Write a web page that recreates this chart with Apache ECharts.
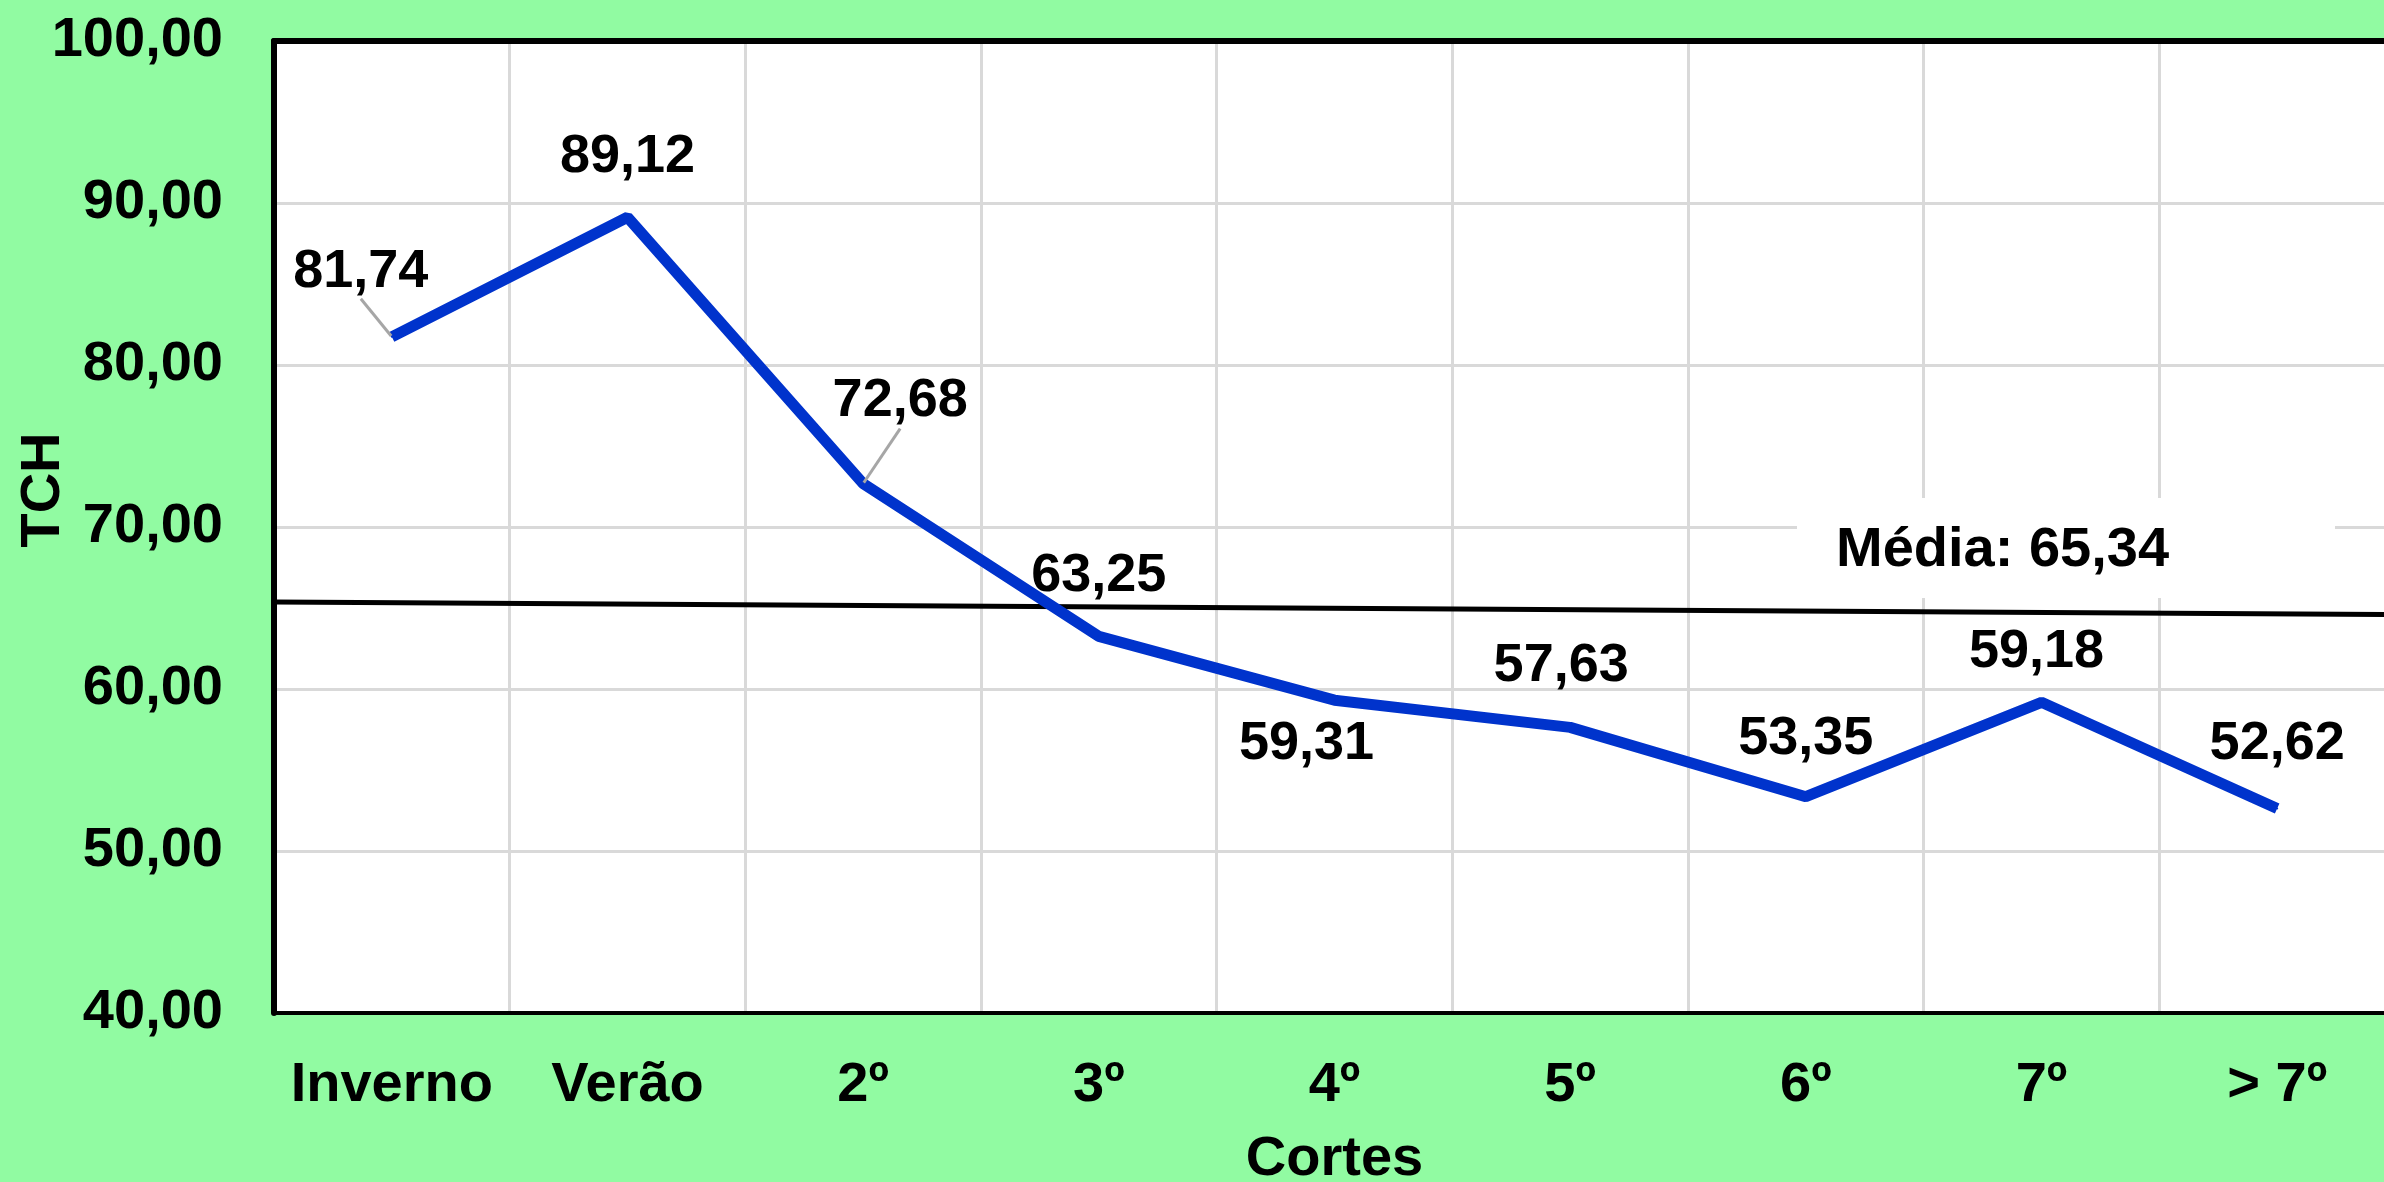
<!DOCTYPE html>
<html>
<head>
<meta charset="utf-8">
<script src="https://cdn.jsdelivr.net/npm/echarts@6/dist/echarts.min.js"></script>
<style>
html,body{margin:0;padding:0;background:#91FBA2;}
#c{width:2384px;height:1182px;}
</style>
</head>
<body>
<div id="c"></div>
<script>
// ---- data ----
const categories = ['Inverno', 'Verão', '2º', '3º', '4º', '5º', '6º', '7º', '> 7º'];
const tchValues = [81.74, 89.12, 72.68, 63.25, 59.31, 57.63, 53.35, 59.18, 52.62];
const mediaValue = 65.34;
const mediaLineEnds = [65.37, 64.60]; // drawn mean line: start (left edge) and end (right edge)
const yTicks = { min: 40, max: 100, interval: 10 };
const yAxisTitle = 'TCH';
const xAxisTitle = 'Cortes';

// ---- label placement (style, not data) ----
const labelOffsets = [[-31, -65], [0, -60], [37, -82], [0, -60], [-28, 44], [-9, -61], [0, -58], [-5, -50], [0, -64]];
const leaderLines = [true, false, true, false, false, false, false, false, false];

const FONT = 'Liberation Sans, Arial, sans-serif';
const fmt = v => v.toFixed(2).replace('.', ',');

const chart = echarts.init(document.getElementById('c'), null, { renderer: 'canvas' });

const option = {
  backgroundColor: '#91FBA2',
  animation: false,
  grid: {
    left: 274, top: 41, width: 2121, height: 972,
    outerBoundsMode: 'none',
    containLabel: false,
    show: true, backgroundColor: '#FFFFFF', borderWidth: 0
  },
  xAxis: [{
    type: 'category',
    data: categories,
    boundaryGap: true,
    z: 1,
    axisTick: { show: false },
    axisLine: { show: true, lineStyle: { color: '#000', width: 4 } },
    axisLabel: { interval: 0, color: '#000', fontFamily: FONT, fontWeight: 'bold', fontSize: 56, margin: 45 },
    splitLine: { show: true, interval: 0, showMinLine: false, lineStyle: { color: '#D9D9D9', width: 3 } },
    name: xAxisTitle,
    nameLocation: 'middle',
    nameGap: 119,
    nameTextStyle: { color: '#000', fontFamily: FONT, fontWeight: 'bold', fontSize: 56 }
  }, {
    type: 'value', min: 0, max: 9, position: 'top', z: 3,
    axisLine: { show: true, lineStyle: { color: '#000', width: 6 } },
    axisTick: { show: false },
    axisLabel: { show: false },
    splitLine: { show: false }
  }],
  yAxis: {
    type: 'value',
    min: yTicks.min, max: yTicks.max, interval: yTicks.interval,
    z: 2,
    axisLine: { show: true, lineStyle: { color: '#000', width: 6 } },
    axisTick: { show: false },
    axisLabel: { color: '#000', fontFamily: FONT, fontWeight: 'bold', fontSize: 56, margin: 51, formatter: v => fmt(v) },
    splitLine: { show: true, showMinLine: false, showMaxLine: false, lineStyle: { color: '#D9D9D9', width: 3 } }
  },
  series: [{
    type: 'line',
    xAxisIndex: 1,
    data: [[0, mediaLineEnds[0]], [9, mediaLineEnds[1]]],
    symbol: 'none',
    lineStyle: { color: '#000', width: 5 },
    z: 3,
    silent: true
  }, {
    type: 'line',
    xAxisIndex: 0,
    data: tchValues.map((v, i) => ({ value: v, labelLine: { show: leaderLines[i] } })),
    symbol: 'circle',
    symbolSize: 2,
    itemStyle: { color: '#0033CC' },
    lineStyle: { color: '#0033CC', width: 11 },
    z: 5,
    label: {
      show: true,
      position: 'inside',
      color: '#000',
      textBorderWidth: 0,
      fontFamily: FONT, fontWeight: 'bold', fontSize: 54,
      formatter: p => fmt(p.value)
    },
    labelLine: { show: false, lineStyle: { color: '#A6A6A6', width: 3 } },
    labelLayout: p => ({ dx: labelOffsets[p.dataIndex][0], dy: labelOffsets[p.dataIndex][1] })
  }],
  graphic: [{
    type: 'rect', z: 100,
    shape: { x: 1797, y: 498, width: 538, height: 100 },
    style: { fill: '#FFFFFF' }
  }, {
    type: 'text', z: 101,
    style: {
      text: 'Média: ' + fmt(mediaValue),
      x: 1836, y: 551,
      font: 'bold 56px ' + FONT,
      fill: '#000',
      textAlign: 'left',
      textVerticalAlign: 'middle'
    }
  }, {
    type: 'text', z: 101,
    x: 44, y: 490, rotation: Math.PI / 2,
    style: {
      text: yAxisTitle,
      x: 0, y: 0,
      font: 'bold 56px ' + FONT,
      fill: '#000',
      textAlign: 'center',
      textVerticalAlign: 'middle'
    }
  }]
};
chart.setOption(option);
</script>
</body>
</html>
